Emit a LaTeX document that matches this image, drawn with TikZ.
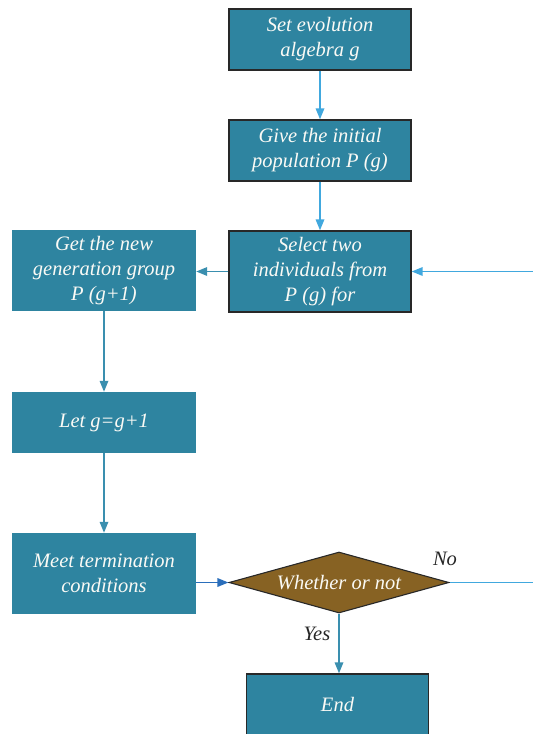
\documentclass[tikz,border=0pt]{standalone}
\usepackage{fontspec}
\setmainfont{Liberation Serif}
\usetikzlibrary{shapes.geometric,arrows.meta}
\definecolor{boxfill}{RGB}{46,132,160}
\definecolor{diafill}{RGB}{135,98,35}
\definecolor{lightarrow}{RGB}{65,168,222}
\definecolor{tealarrow}{RGB}{58,143,175}
\definecolor{bluearrow}{RGB}{42,110,187}
\definecolor{bordercol}{RGB}{40,40,40}
\definecolor{txt}{RGB}{250,250,245}
\tikzset{
  boxtext/.style={font=\itshape\fontsize{20.5}{25}\selectfont, text=txt, align=center},
  procbox/.style={boxtext, rectangle, fill=boxfill, draw=bordercol, line width=1.3pt,
    minimum width=182pt, minimum height=61pt, inner sep=0pt},
  plainbox/.style={boxtext, rectangle, fill=boxfill, draw=none,
    minimum width=184pt, minimum height=61pt, inner sep=0pt},
  decision/.style={boxtext, diamond, fill=diafill, draw=bordercol, line width=1.1pt,
    minimum width=220pt, minimum height=61pt, inner sep=0pt, aspect=3.6},
  tip/.style={-{Triangle[length=11pt,width=8.5pt]}, line width=1.7pt},
  lbl/.style={font=\itshape\fontsize{20.5}{25}\selectfont, text=black!85}
}
\begin{document}
\begin{tikzpicture}[x=1pt,y=-1pt]
\useasboundingbox (0,0) rectangle (533,734);
\node[procbox] (set) at (320,39.5) {Set evolution\\algebra g};
\node[procbox] (give) at (320,150.5) {Give the initial\\population P (g)};
\node[procbox, minimum height=81pt] (sel) at (320,271.5) {Select two\\individuals from\\P (g) for};
\node[plainbox, minimum height=81pt] (gen) at (104,270.5) {Get the new\\generation group\\P (g+1)};
\node[plainbox] (let) at (104,422.5) {Let g=g+1};
\node[plainbox, minimum height=81pt] (meet) at (104,573.5) {Meet termination\\conditions};
\node[decision] (dec) at (339,582.5) {Whether or not};
\node[procbox, minimum height=61pt] (end) at (337.5,704.5) {End};
\coordinate (rin) at (533,271.5);
\coordinate (rout) at (533,582.5);

\draw[tip, lightarrow] (set) -- (give);
\draw[tip, lightarrow] (give) -- (sel);
\draw[tip, lightarrow] (rin) -- (sel.east);
\draw[tip, tealarrow] (sel.west) -- (gen.east |- sel.west);
\draw[tip, tealarrow] (gen) -- (let);
\draw[tip, tealarrow] (let) -- (meet);
\draw[tip, bluearrow] (meet.east |- dec.west) -- (dec.west);
\draw[line width=1.7pt, lightarrow] (dec.east) -- (rout);
\draw[tip, tealarrow] (dec.south) -- (dec.south |- end.north);
\node[lbl] (no) at (445,559) {No};
\node[lbl] (yes) at (317,634) {Yes};
\end{tikzpicture}
\end{document}
